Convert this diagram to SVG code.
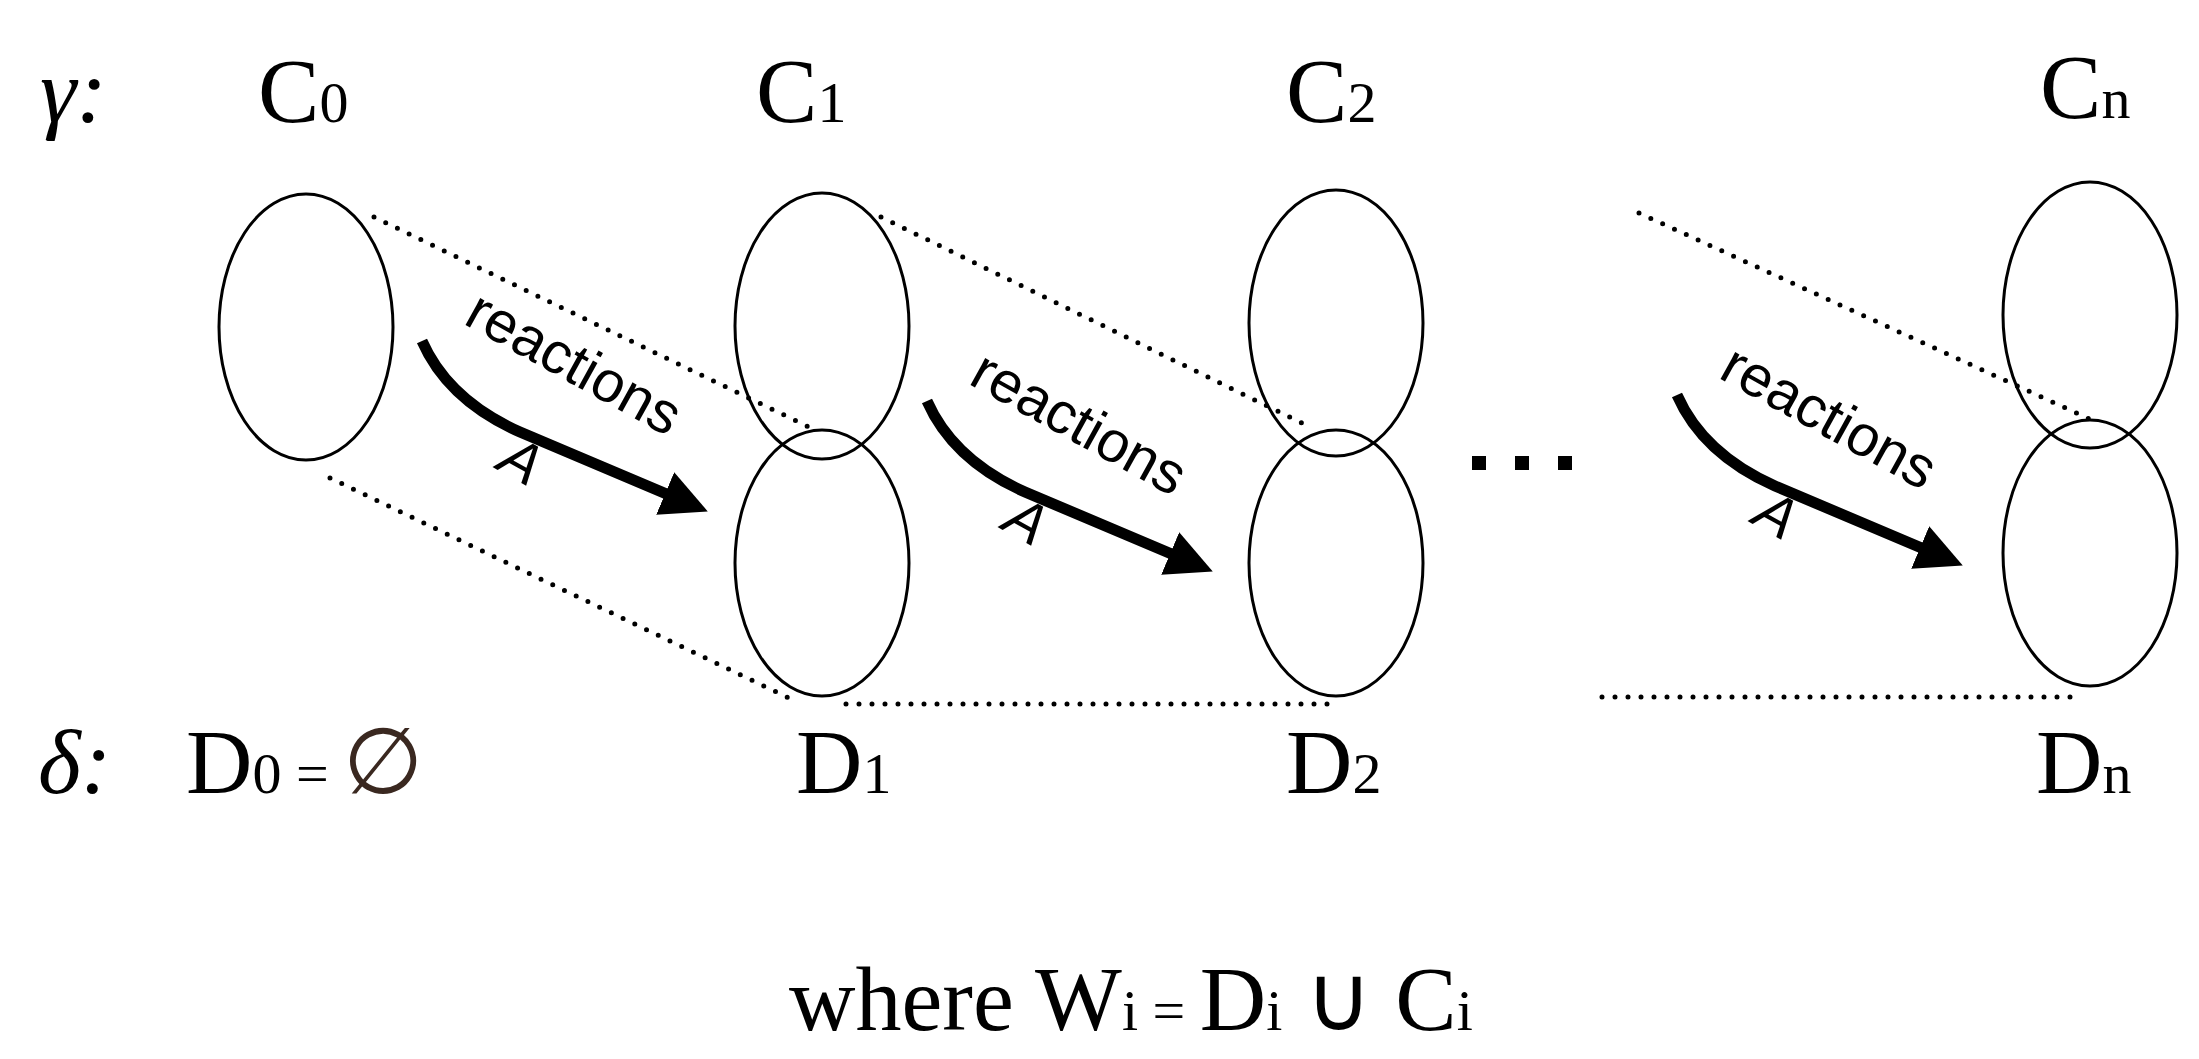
<svg xmlns="http://www.w3.org/2000/svg" width="2199" height="1059" viewBox="0 0 2199 1059">
<style>
.t{font-family:"Liberation Serif",serif;font-size:92px;fill:#000}
.s{font-size:58px}
.r{font-family:"Liberation Sans",Arial,sans-serif;font-size:58px;fill:#000}
.e{fill:none;stroke:#000;stroke-width:3}
.d{fill:none;stroke:#000;stroke-width:5;stroke-dasharray:0 13;stroke-linecap:round}
.a{fill:none;stroke:#000;stroke-width:11}
</style>
<defs>
<marker id="ah" viewBox="0 0 10 10" refX="7" refY="5" markerWidth="4.2" markerHeight="4.2" orient="auto" markerUnits="strokeWidth"><path d="M0,0L10,5L0,10z" fill="#000"/></marker>
<g id="arr"><path class="a" d="M422,341 Q448,400 520,432 L695,506" marker-end="url(#ah)"/>
<text class="r" transform="translate(565,380) rotate(29)" text-anchor="middle">reactions</text>
<text class="r" font-style="italic" transform="translate(512,478) rotate(29)" text-anchor="middle">A</text></g>
</defs>
<g id="labels">
<text class="t" x="40" y="122" font-style="italic">γ:</text>
<text class="t" x="258" y="122">C<tspan class="s">0</tspan></text>
<text class="t" x="756" y="122">C<tspan class="s">1</tspan></text>
<text class="t" x="1286" y="122">C<tspan class="s">2</tspan></text>
<text class="t" x="2040" y="118">C<tspan class="s">n</tspan></text>
<text class="t" x="38" y="793" font-style="italic">δ:</text>
<text class="t" x="186" y="793">D<tspan class="s">0</tspan><tspan class="s"> = </tspan><tspan fill="#3a2820">∅</tspan></text>
<text class="t" x="796" y="793">D<tspan class="s">1</tspan></text>
<text class="t" x="1286" y="793">D<tspan class="s">2</tspan></text>
<text class="t" x="2036" y="793">D<tspan class="s">n</tspan></text>
<text class="t" x="789" y="1030">where W<tspan class="s">i</tspan><tspan class="s"> = </tspan>D<tspan class="s">i</tspan> ∪ C<tspan class="s">i</tspan></text>
</g>
<g id="c0"><ellipse class="e" cx="306" cy="327" rx="87" ry="133"/></g>
<g id="c1"><ellipse class="e" cx="822" cy="326" rx="87" ry="133"/><ellipse class="e" cx="822" cy="563" rx="87" ry="133"/></g>
<g id="c2"><ellipse class="e" cx="1336" cy="323" rx="87" ry="133"/><ellipse class="e" cx="1336" cy="563" rx="87" ry="133"/></g>
<g id="cn"><ellipse class="e" cx="2090" cy="315" rx="87" ry="133"/><ellipse class="e" cx="2090" cy="553" rx="87" ry="133"/></g>
<g id="connectors">
<path class="d" d="M374,217L813,429M330,478L789,698M881,217L1308,426M846,704L1329,704M1639,213L2094,421M1602,697L2083,697"/>
<use href="#arr"/>
<use href="#arr" transform="translate(505,60)"/>
<use href="#arr" transform="translate(1255,54)"/>
<g fill="#000"><rect x="1472" y="456" width="14" height="14"/><rect x="1515" y="456" width="14" height="14"/><rect x="1558" y="456" width="14" height="14"/></g>
</g>
</svg>
